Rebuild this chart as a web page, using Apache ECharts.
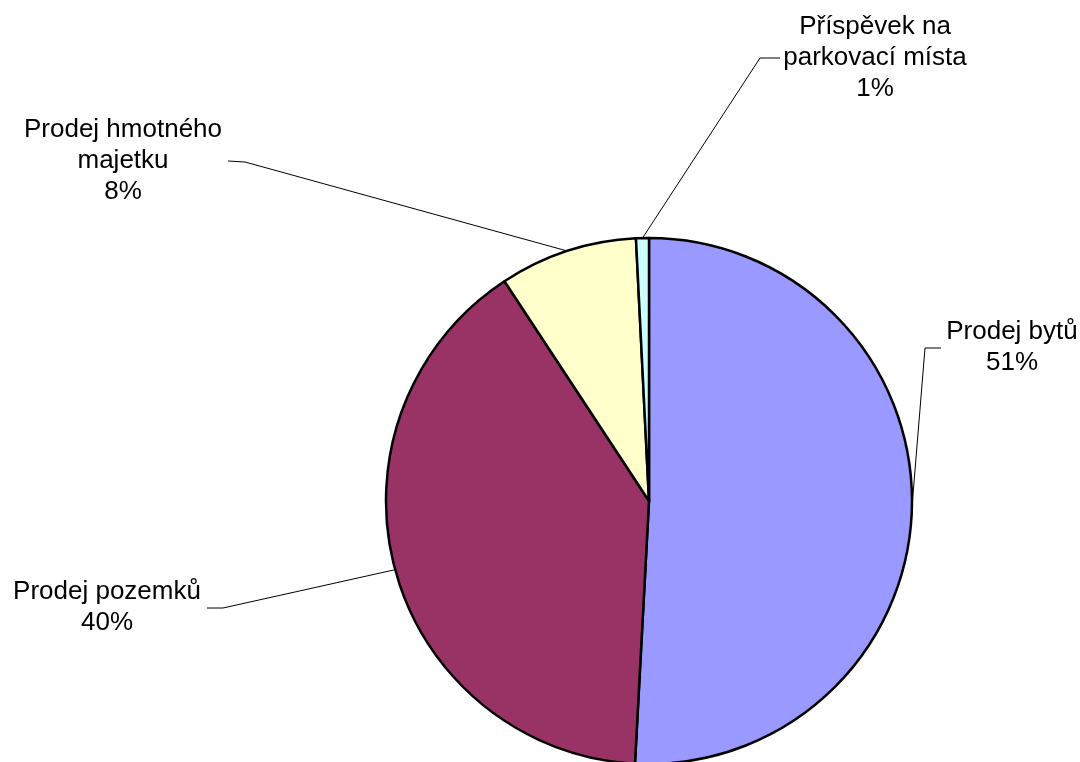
<!DOCTYPE html>
<html>
<head>
<meta charset="utf-8">
<script src="https://cdn.jsdelivr.net/npm/echarts@6/dist/echarts.min.js"></script>
<style>
html,body{margin:0;padding:0;background:#fff;}
#chart{width:1080px;height:762px;}
</style>
</head>
<body>
<div id="chart"></div>
<script>
// Data (percent shares)
const categories = ['Prodej bytů', 'Prodej pozemků', 'Prodej hmotného\nmajetku', 'Příspěvek na\nparkovací místa'];
const values = [50.85, 39.89, 8.47, 0.79];
const colors = ['#9999FF', '#993366', '#FFFFCC', '#CCFFFF'];

// Label placement (label centre and elbow of the leader line, end of leader line)
const labelCentres = [[1012, 347], [107, 607], [123, 161], [875, 58]];
const labelElbows = [[[925, 348], [941, 348]], [[223, 608], [207, 608]], [[245, 162], [228, 161]], [[760, 58], [780, 58]]];

const chart = echarts.init(document.getElementById('chart'), null, {renderer: 'canvas'});
const data = categories.map((c, i) => ({name: c, value: values[i], itemStyle: {color: colors[i]}}));

chart.setOption({
  animation: false,
  backgroundColor: '#ffffff',
  series: [{
    type: 'pie',
    center: [649, 501],
    radius: 263,
    startAngle: 90,
    clockwise: true,
    percentPrecision: 0,
    avoidLabelOverlap: false,
    emphasis: {disabled: true},
    itemStyle: {borderColor: '#000000', borderWidth: 2.5},
    label: {
      show: true,
      position: 'outside',
      formatter: '{b}\n{d}%',
      color: '#000000',
      fontFamily: 'Liberation Sans, Arial, sans-serif',
      fontSize: 26,
      lineHeight: 31,
      align: 'center'
    },
    labelLine: {
      show: true,
      length: 10,
      length2: 10,
      lineStyle: {color: '#000000', width: 1}
    },
    labelLayout: function (params) {
      const i = params.dataIndex;
      const start = params.labelLinePoints ? params.labelLinePoints[0] : null;
      const res = {
        x: labelCentres[i][0],
        y: labelCentres[i][1],
        align: 'center',
        verticalAlign: 'middle'
      };
      if (start) {
        res.labelLinePoints = [start, labelElbows[i][0], labelElbows[i][1]];
      }
      return res;
    },
    data: data
  }]
});
</script>
</body>
</html>
